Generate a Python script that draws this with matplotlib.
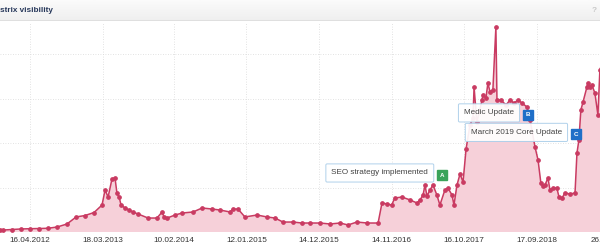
import matplotlib
matplotlib.use("Agg")
import numpy as np
import pandas as pd
import matplotlib.pyplot as plt

plt.rcParams['font.family'] = ['Liberation Sans', 'DejaVu Sans']

# visibility index readings
dates = ['2011-11-29', '2011-12-13', '2012-01-24', '2012-03-05', '2012-04-16', '2012-05-28',
         '2012-07-08', '2012-08-19', '2012-10-04', '2012-11-15', '2012-12-26', '2013-02-06',
         '2013-03-15', '2013-03-29', '2013-04-12', '2013-04-30', '2013-05-14', '2013-05-23',
         '2013-06-02', '2013-06-11', '2013-06-29', '2013-07-18', '2013-08-05', '2013-08-29',
         '2013-10-14', '2013-11-24', '2013-12-18', '2013-12-27', '2014-01-10', '2014-02-16',
         '2014-03-20', '2014-05-10', '2014-06-21', '2014-08-06', '2014-09-12', '2014-10-28',
         '2014-11-11', '2014-12-04', '2015-01-05', '2015-03-02', '2015-04-17', '2015-05-24',
         '2015-06-30', '2015-08-15', '2015-09-26', '2015-11-02', '2015-12-18', '2016-02-03',
         '2016-03-20', '2016-04-26', '2016-06-06', '2016-07-23', '2016-09-12', '2016-09-30',
         '2016-10-23', '2016-11-14', '2016-11-28', '2017-01-01', '2017-02-07', '2017-03-11',
         '2017-03-25', '2017-04-08', '2017-04-17', '2017-04-26', '2017-05-10', '2017-05-24',
         '2017-06-11', '2017-06-25', '2017-07-18', '2017-08-01', '2017-08-20', '2017-08-29',
         '2017-09-12', '2017-09-26', '2017-10-10', '2017-10-24', '2017-11-11', '2017-11-25',
         '2017-11-30', '2017-12-13', '2018-01-06', '2018-01-10', '2018-01-24', '2018-02-02',
         '2018-02-12', '2018-02-25', '2018-03-11', '2018-03-16', '2018-04-03', '2018-04-27',
         '2018-05-15', '2018-06-03', '2018-06-21', '2018-07-10', '2018-08-02', '2018-08-16',
         '2018-09-08', '2018-09-22', '2018-10-05', '2018-10-15', '2018-10-24', '2018-11-07',
         '2018-11-16', '2018-11-30', '2018-12-18', '2018-12-28', '2019-01-11', '2019-01-24',
         '2019-02-17', '2019-03-12', '2019-03-21', '2019-03-30', '2019-04-08', '2019-04-18',
         '2019-05-06', '2019-05-11', '2019-05-20', '2019-05-29', '2019-06-12', '2019-06-26',
         '2019-07-05', '2019-07-19']
values = [0.017, 0.022, 0.028, 0.034, 0.037, 0.039,
          0.042, 0.056, 0.090, 0.169, 0.185, 0.219,
          0.303, 0.472, 0.393, 0.596, 0.607, 0.438,
          0.393, 0.303, 0.270, 0.247, 0.225, 0.202,
          0.157, 0.157, 0.225, 0.169, 0.157, 0.191,
          0.213, 0.225, 0.270, 0.258, 0.247, 0.225,
          0.258, 0.258, 0.169, 0.191, 0.169, 0.157,
          0.112, 0.112, 0.101, 0.101, 0.101, 0.090,
          0.101, 0.079, 0.112, 0.101, 0.101, 0.326,
          0.315, 0.303, 0.382, 0.393, 0.360, 0.326,
          0.360, 0.416, 0.528, 0.404, 0.472, 0.528,
          0.416, 0.303, 0.472, 0.494, 0.416, 0.303,
          0.528, 0.652, 0.562, 0.933, 1.202, 1.281,
          1.629, 1.236, 1.483, 1.539, 1.506, 1.674,
          1.573, 1.596, 2.303, 1.483, 1.483, 1.427,
          1.483, 1.449, 1.483, 1.449, 1.404, 1.258,
          0.955, 0.809, 0.551, 0.517, 0.528, 0.607,
          0.472, 0.494, 0.494, 0.393, 0.382, 0.438,
          0.427, 0.438, 0.888, 1.034, 1.371, 1.461,
          1.629, 1.674, 1.629, 1.652, 1.562, 1.315,
          1.820, 1.930]

tick_dates = ['2012-04-16', '2013-03-18', '2014-02-10', '2015-01-12', '2015-12-14',
              '2016-11-14', '2017-10-16', '2018-09-17', '2019-08-26']
y_grid = [0.5, 1.0, 1.5, 2.0]

event_dates = ['2017-07-05', '2018-08-06', '2019-03-16']
event_values = [0.640, 1.315, 1.096]
event_letters = ['A', 'B', 'C']
event_names = ['SEO strategy implemented', 'Medic Update', 'March 2019 Core Update']
event_colors = ['#3aa35a', '#1f6fc8', '#1f6fc8']

x = pd.to_datetime(dates)
ticks = pd.to_datetime(tick_dates)
ev_x = pd.to_datetime(event_dates)

line_col = '#c93b62'
fill_col = '#f6d0d9'

fig = plt.figure(figsize=(6, 2.5), dpi=100)

# header bar
hdr = fig.add_axes([0, 0.916, 1, 0.084])
grad = np.linspace(0, 1, 20).reshape(-1, 1)
hdr.imshow(grad, aspect='auto', cmap=matplotlib.colors.LinearSegmentedColormap.from_list(
    'h', ['#fbfbfb', '#efefef']), extent=[0, 1, 0, 1])
hdr.axhline(0, color='#dcdcdc', lw=1.2)
hdr.set_xlim(0, 1)
hdr.set_ylim(0, 1)
hdr.axis('off')
hdr.text(0.0, 0.5, 'strix visibility', fontsize=5.9, fontweight='bold',
         color='#26375a', va='center', ha='left')
hdr.text(0.99, 0.5, '?', fontsize=6, fontweight='bold', color='#c8c8c8',
         va='center', ha='center')

ax = fig.add_axes([0, 0.072, 1.0333, 0.84])
ax.set_xlim(pd.Timestamp('2011-11-29'), pd.Timestamp('2019-10-06'))
ax.set_ylim(0, 2.36)

ax.fill_between(x, values, 0, color=fill_col, lw=0, zorder=1)
ax.plot(x, values, color=line_col, lw=1.1, marker='o', ms=2.4, zorder=3)

for t in ticks:
    ax.axvline(t, color='#d9d9d9', lw=0.6, ls=(0, (1, 2)), zorder=0)
for g in y_grid:
    ax.axhline(g, color='#d9d9d9', lw=0.6, ls=(0, (1, 2)), zorder=0)

ax.set_xticks(ticks)
ax.set_xticklabels([t.strftime('%d.%m.%Y') for t in ticks], fontsize=5.9, color='#333333')
ax.tick_params(axis='x', length=0, pad=3.5)
ax.set_yticks([])
for s in ax.spines.values():
    s.set_visible(False)

# event markers with callout labels
for ex, ey, let, name, col in zip(ev_x, event_values, event_letters, event_names, event_colors):
    ax.plot(ex, ey, marker='s', ms=7, color=col, zorder=6)
    ax.text(ex, ey, let, fontsize=4.5, fontweight='bold', color='white',
            ha='center', va='center', zorder=7)
    ax.annotate(name, xy=(ex, ey), xytext=(-10, 1.5), textcoords='offset points',
                ha='right', va='center', fontsize=5.9, color='#444444', zorder=5,
                bbox=dict(boxstyle='round,pad=0.68,rounding_size=0.15', fc='white',
                          ec='#a9cde9', lw=0.7, alpha=0.92))

fig.savefig('out.png', dpi=100)
